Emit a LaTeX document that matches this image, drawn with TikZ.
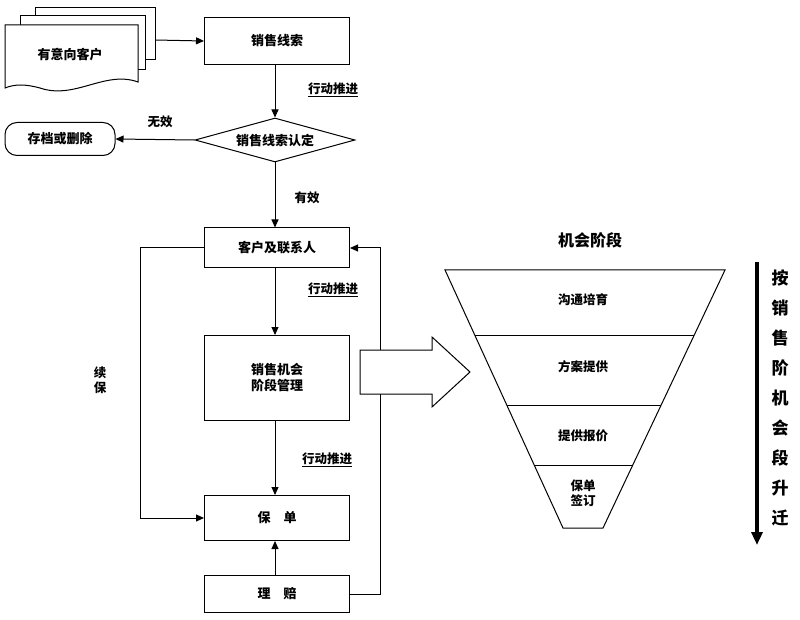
\documentclass[tikz,border=0pt]{standalone}
\usepackage{fontspec}
\newfontfamily\cjk{Noto Sans CJK SC}
\usetikzlibrary{shapes.geometric,shapes.arrows,arrows.meta}
\begin{document}
\begin{tikzpicture}[x=1pt,y=-1pt,font=\cjk\bfseries\fontsize{13}{16}\selectfont,
 box/.style={draw,line width=1pt,minimum width=145pt,inner sep=2pt},
 arr/.style={-{Triangle[length=8pt,width=7pt]},line width=1pt},
 lab/.style={font=\cjk\bfseries\fontsize{12.5}{15}\selectfont}]
\useasboundingbox (0,0) rectangle (800,620);
% document stack
\draw[line width=1pt,fill=white] (35,8) -- (155,8) -- (155,60) -- (35,60) -- cycle;
\draw[line width=1pt,fill=white] (20,16) -- (145,16) -- (145,70) -- (20,70) -- cycle;
\draw[line width=1pt,fill=white] (5,25) -- (138,25) -- (138,82) .. controls (105,70) and (75,100) .. (40,88) .. controls (25,84) and (15,84) .. (5,88) -- cycle;
\node (doc) at (70,55) {有意向客户};
\coordinate (docR) at (155,40);
\node[box,minimum height=47pt] (lead) at (277,41) {销售线索};
\draw[arr] (docR) -- (lead.west);
\node[diamond,aspect=3.6,draw,line width=1pt,inner sep=1pt,minimum width=160pt,minimum height=44pt] (chk) at (275,140) {销售线索认定};
\draw[arr] (lead.south -| chk.north) -- (chk.north);
\node[lab] at (333,90) {\underline{行动推进}};
\node[draw,rounded corners=12pt,line width=1pt,minimum width=110pt,minimum height=33pt] (arch) at (60,139) {存档或删除};
\draw[arr] (chk.west) -- (arch.east);
\node[lab] at (160,122) {无效};
\node[box,minimum height=40pt] (cust) at (277,248) {客户及联系人};
\draw[arr] (chk.south) -- (chk.south |- cust.north);
\node[lab] at (307,198) {有效};
\node[box,minimum height=85pt,align=center] (opp) at (277,378) {销售机会\\阶段管理};
\draw[arr] (cust.south -| chk.south) -- (chk.south |- opp.north);
\node[lab] at (333,290) {\underline{行动推进}};
\node[box,minimum height=45pt] (pol) at (277,518) {保\quad 单};
\draw[arr] (opp.south -| chk.south) -- (chk.south |- pol.north);
\node[lab] at (327,460) {\underline{行动推进}};
\node[box,minimum height=37pt] (cl) at (277,594) {理\quad 赔};
\draw[arr] (cl.north -| chk.south) -- (chk.south |- pol.south);
\draw[arr] (cl.east) -- (380,594) -- (380,248) -- (cust.east);
\draw[arr] (cust.west) -- (140,248) -- (140,518) -- (pol.west);
\node[lab,align=center] at (100,380) {续\\保};
% hollow arrow
\draw[line width=1pt,fill=white] (360,350) -- (432,350) -- (432,337) -- (470,372) -- (432,407) -- (432,394) -- (360,394) -- cycle;
% funnel
\node (title) at (590,240) {\fontsize{16}{18}\selectfont 机会阶段};
\draw[line width=1pt] (445,270) -- (725,270) -- (603,528) -- (563,528) -- cycle;
\foreach \y in {335,405,465}{
 \pgfmathsetmacro\xl{445+(\y-270)/258*118}
 \pgfmathsetmacro\xr{725-(\y-270)/258*122}
 \draw[line width=1pt] (\xl,\y) -- (\xr,\y);}
\node[lab] (s1) at (583,300) {沟通培育};
\node[lab] (s2) at (583,367) {方案提供};
\node[lab] (s3) at (583,436) {提供报价};
\node[lab,align=center] (s4) at (583,493) {保单\\签订};
% right arrow
\coordinate (ra) at (757,262); \coordinate (rb) at (757,545);
\draw[-{Triangle[length=13pt,width=11pt]},line width=4pt] (ra) -- (rb);
\node[align=center,font=\cjk\bfseries\fontsize{17}{30}\selectfont] at (780,398) {按\\销\\售\\阶\\机\\会\\段\\升\\迁};
\end{tikzpicture}
\end{document}
